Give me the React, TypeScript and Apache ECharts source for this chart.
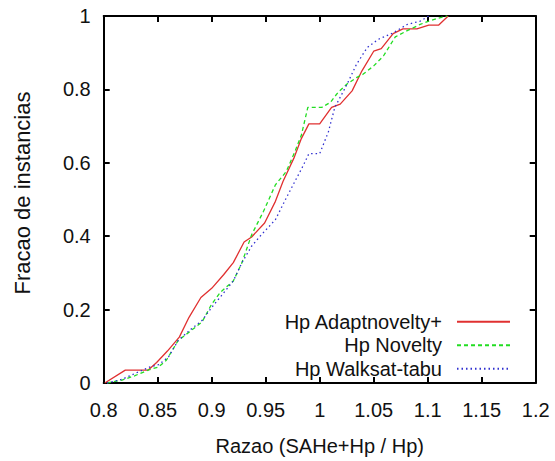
import React, { useEffect, useRef } from "react";
import * as echarts from "echarts";

const seriesNames = ["Hp Adaptnovelty+", "Hp Novelty", "Hp Walksat-tabu"];

const adaptX = [0.801, 0.82, 0.841, 0.849, 0.859, 0.87, 0.879, 0.89, 0.9, 0.911, 0.92, 0.93, 0.937, 0.949, 0.959, 0.966, 0.976, 0.983, 0.99, 1.0, 1.011, 1.019, 1.03, 1.039, 1.05, 1.057, 1.068, 1.077, 1.09, 1.101, 1.11, 1.119];
const adaptY = [0, 0.035, 0.035, 0.056, 0.087, 0.125, 0.179, 0.233, 0.258, 0.295, 0.328, 0.384, 0.398, 0.436, 0.495, 0.549, 0.612, 0.666, 0.706, 0.706, 0.751, 0.76, 0.796, 0.85, 0.904, 0.911, 0.952, 0.965, 0.965, 0.975, 0.975, 1.0];

const noveltyX = [0.803, 0.817, 0.829, 0.841, 0.851, 0.858, 0.869, 0.881, 0.891, 0.9, 0.908, 0.92, 0.928, 0.937, 0.948, 0.959, 0.969, 0.977, 0.983, 0.989, 1.002, 1.01, 1.017, 1.025, 1.034, 1.04, 1.05, 1.059, 1.07, 1.081, 1.093, 1.101, 1.111, 1.118];
const noveltyY = [0, 0.008, 0.02, 0.035, 0.044, 0.062, 0.116, 0.143, 0.166, 0.215, 0.247, 0.278, 0.328, 0.404, 0.468, 0.54, 0.576, 0.63, 0.675, 0.751, 0.751, 0.765, 0.792, 0.814, 0.832, 0.841, 0.864, 0.891, 0.943, 0.96, 0.977, 0.986, 0.995, 1.0];

const walksatX = [0.803, 0.817, 0.829, 0.843, 0.851, 0.86, 0.869, 0.881, 0.891, 0.9, 0.909, 0.92, 0.928, 0.937, 0.946, 0.959, 0.969, 0.977, 0.985, 0.99, 1.0, 1.008, 1.014, 1.025, 1.034, 1.044, 1.054, 1.068, 1.081, 1.093, 1.101];
const walksatY = [0, 0.01, 0.026, 0.044, 0.05, 0.071, 0.116, 0.147, 0.17, 0.206, 0.238, 0.278, 0.328, 0.373, 0.404, 0.445, 0.504, 0.549, 0.594, 0.625, 0.625, 0.684, 0.751, 0.812, 0.868, 0.914, 0.936, 0.954, 0.977, 0.986, 1.0];

const xTitle = "Razao (SAHe+Hp / Hp)";
const yTitle = "Fracao de instancias";

const pairs = (xs: number[], ys: number[]) => xs.map((x, i) => [x, ys[i]]);

const FONT = "Liberation Sans, Arial, sans-serif";

export default function App() {
  const ref = useRef<HTMLDivElement>(null);
  useEffect(() => {
    if (!ref.current) return;
    const chart = echarts.init(ref.current, undefined, { renderer: "svg" });
    const fmt = (v: number) => String(parseFloat(v.toFixed(2)));
    const axisCommon = {
      axisLine: { show: true, onZero: false, lineStyle: { color: "#000", width: 2 } },
      axisTick: { show: true, inside: true, length: 6, lineStyle: { color: "#000", width: 2 } },
      splitLine: { show: false },
    };
    chart.setOption({
      animation: false,
      backgroundColor: "#fff",
      grid: { left: 103.7, top: 16, right: 19.3, bottom: 74.7 },
      xAxis: [
        {
          type: "value", min: 0.8, max: 1.2, interval: 0.05, position: "bottom",
          ...axisCommon,
          axisLabel: { margin: 17, fontSize: 20, fontFamily: FONT, color: "#111", formatter: fmt },
          name: xTitle, nameLocation: "middle", nameGap: 53,
          nameTextStyle: { fontSize: 20, fontFamily: FONT, color: "#111" },
        },
        {
          type: "value", min: 0.8, max: 1.2, interval: 0.05, position: "top",
          ...axisCommon,
          axisLabel: { show: false },
        },
      ],
      yAxis: [
        {
          type: "value", min: 0, max: 1, interval: 0.2, position: "left",
          ...axisCommon,
          axisLabel: { margin: 13, fontSize: 20, fontFamily: FONT, color: "#111", formatter: fmt },
        },
        {
          type: "value", min: 0, max: 1, interval: 0.2, position: "right",
          ...axisCommon,
          axisLabel: { show: false },
        },
      ],
      legend: {
        orient: "vertical", right: 44, top: 311.7, align: "right", padding: 0,
        itemWidth: 53, itemHeight: 14, itemGap: 3.5,
        itemStyle: { opacity: 0 },
        textStyle: { fontSize: 20, fontFamily: FONT, color: "#111", lineHeight: 20, padding: [0, 10, 0, 0] },
        data: seriesNames,
      },
      graphic: [
        {
          type: "text", x: 22, y: 193, rotation: Math.PI / 2,
          style: { text: yTitle, fontSize: 22, fontFamily: FONT, fill: "#111", align: "center", verticalAlign: "middle" },
        },
      ],
      series: [
        {
          name: seriesNames[0], type: "line", data: pairs(adaptX, adaptY), symbol: "none",
          lineStyle: { color: "#e03030", width: 1.3, type: "solid" }, itemStyle: { color: "#e03030" },
        },
        {
          name: seriesNames[1], type: "line", data: pairs(noveltyX, noveltyY), symbol: "none",
          lineStyle: { color: "#22dd22", width: 1.3, type: [4, 3] }, itemStyle: { color: "#22dd22" },
        },
        {
          name: seriesNames[2], type: "line", data: pairs(walksatX, walksatY), symbol: "none",
          lineStyle: { color: "#3030d0", width: 1.3, type: [1.5, 3] }, itemStyle: { color: "#3030d0" },
        },
      ],
    });
    return () => chart.dispose();
  }, []);
  return <div ref={ref} style={{ width: 555, height: 461, position: "absolute", left: 0, top: 0 }} />;
}
